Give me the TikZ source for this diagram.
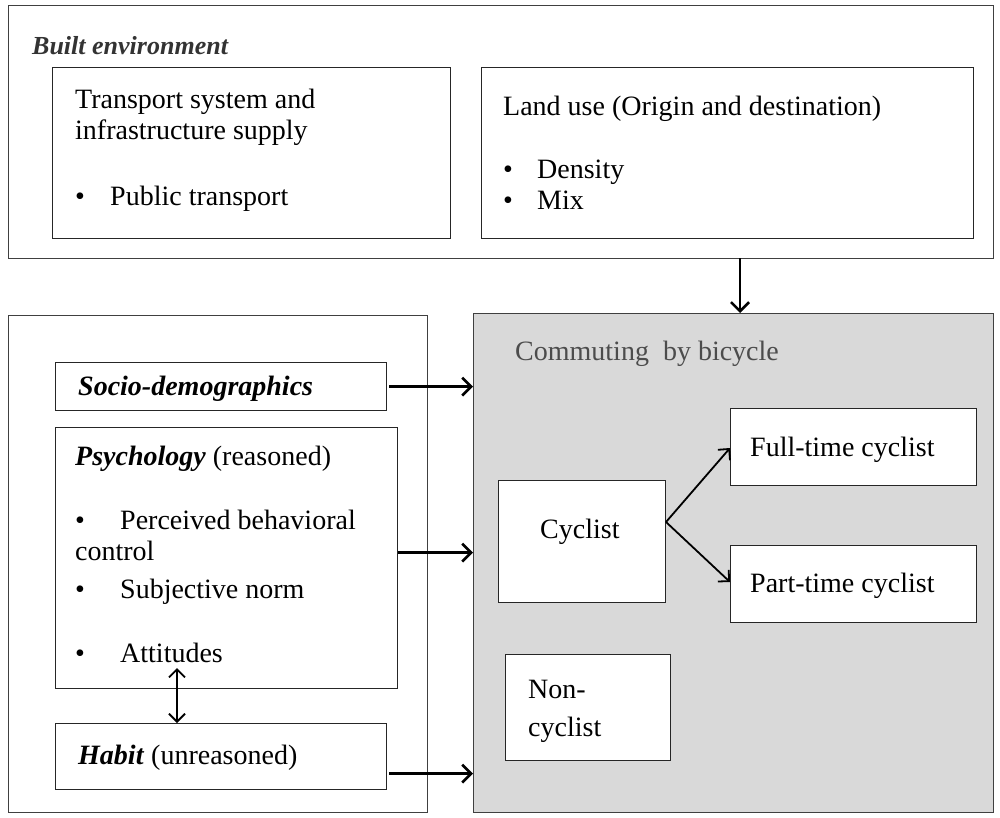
\documentclass[tikz,border=0pt]{standalone}
\usepackage{fontspec}
\setmainfont{Liberation Serif}
\usetikzlibrary{arrows.meta}
\begin{document}
\begin{tikzpicture}[x=1pt,y=-1pt,
  box/.style={draw=black!85,line width=1.2pt,fill=white,anchor=north west,inner sep=0pt},
  outer/.style={draw=black!75,line width=1.2pt,anchor=north west,inner sep=0pt},
  txt/.style={anchor=base west,inner sep=0pt,font=\fontsize{28}{33}\selectfont},
  arr/.style={line width=2.6pt,-{Straight Barb[length=9pt,width=18pt,line width=2.6pt]}},
  thinarr/.style={line width=1.8pt,-{Straight Barb[length=8pt,width=16pt,line width=1.8pt]}}]
\useasboundingbox (0,0) rectangle (1000,817);
\fill[white] (0,0) rectangle (1000,817);
% outer boxes
\node[outer,minimum width=985pt,minimum height=253pt] (built) at (8,5) {};
\node[outer,minimum width=419pt,minimum height=497pt] (left) at (8,315) {};
\node[outer,fill=black!15,minimum width=520pt,minimum height=499pt] (gray) at (473,313) {};
\node[txt,font=\fontsize{26}{30}\selectfont\bfseries\itshape,text=black!80] (builtlbl) at (32,54) {Built environment};
% top inner boxes
\node[box,minimum width=398pt,minimum height=171pt] (transport) at (52,67) {};
\node[txt] (t1) at (75,108) {Transport system and};
\node[txt] (t2) at (75,139) {infrastructure supply};
\node[txt] (t3b) at (75,205) {•};
\node[txt] (t3) at (110,205) {Public transport};
\node[box,minimum width=492pt,minimum height=171pt] (landuse) at (481,67) {};
\node[txt] (l1) at (503,115) {Land use (Origin and destination)};
\node[txt] (l2b) at (503,178) {•};
\node[txt] (l2) at (537,178) {Density};
\node[txt] (l3b) at (503,209) {•};
\node[txt] (l3) at (537,209) {Mix};
% left inner boxes
\node[box,minimum width=331pt,minimum height=48pt] (socio) at (55,362) {};
\node[txt,font=\fontsize{28}{33}\selectfont\bfseries\itshape] (s1) at (78,395) {Socio-demographics};
\node[box,minimum width=342pt,minimum height=261pt] (psych) at (55,427) {};
\node[txt] (p1) at (75,465) {\textbf{\textit{Psychology}} (reasoned)};
\node[txt] (p2b) at (75,529) {•};
\node[txt] (p2) at (120,529) {Perceived behavioral};
\node[txt] (p3) at (75,560) {control};
\node[txt] (p4b) at (75,598) {•};
\node[txt] (p4) at (120,598) {Subjective norm};
\node[txt] (p5b) at (75,662) {•};
\node[txt] (p5) at (120,662) {Attitudes};
\node[box,minimum width=331pt,minimum height=66pt] (habit) at (55,723) {};
\node[txt] (h1) at (78,764) {\textbf{\textit{Habit}} (unreasoned)};
% gray box content
\node[txt,text=black!70] (c1) at (515,360) {Commuting \ by bicycle};
\node[box,minimum width=167pt,minimum height=122pt] (cyclist) at (498,480) {};
\node[txt] (cy) at (540,538) {Cyclist};
\node[box,minimum width=246pt,minimum height=77pt] (full) at (730,408) {};
\node[txt] (fu) at (750,456) {Full-time cyclist};
\node[box,minimum width=246pt,minimum height=77pt] (part) at (730,545) {};
\node[txt] (pa) at (750,592) {Part-time cyclist};
\node[box,minimum width=165pt,minimum height=106pt] (non) at (505,654) {};
\node[txt] (n1) at (528,698) {Non-};
\node[txt] (n2) at (528,736) {cyclist};
% connectors
\coordinate (bt) at (740,258);
\draw[arr] (bt) -- (bt |- gray.north);
\draw[arr] (socio.east) ++(2,0) coordinate (sa) -- (sa -| gray.west);
\draw[arr] ([yshift=5.5pt]psych.east) coordinate (pa2) -- (pa2 -| gray.west);
\draw[arr] ([yshift=-17pt]habit.east) ++(2,0) coordinate (ha) -- (ha -| gray.west);
\coordinate (cye) at (666,522);
\draw[thinarr] (cye) -- (730,448);
\draw[thinarr] (cye) -- (730,582);
\coordinate (d1) at (177,668);
\draw[line width=1.8pt,{Straight Barb[length=8pt,width=16pt,line width=1.8pt]}-{Straight Barb[length=8pt,width=16pt,line width=1.8pt]}] (d1) -- (d1 |- habit.north);
\end{tikzpicture}
\end{document}
